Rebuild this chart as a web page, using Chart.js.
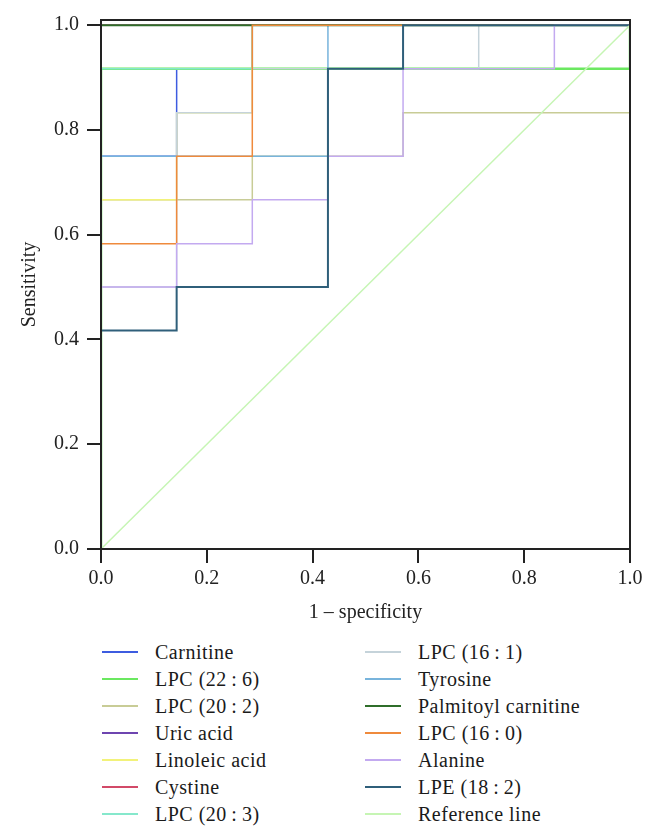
<!DOCTYPE html>
<html>
<head>
<meta charset="utf-8">
<script src="https://cdn.jsdelivr.net/npm/chart.js@4.4.0/dist/chart.umd.min.js"></script>
<style>
  body { margin: 0; background: #fff; }
  #wrap { position: relative; width: 654px; height: 836px; }
  #roc { position: absolute; left: 0; top: 0; }
  .key { position: absolute; height: 24px; font: 20px "Liberation Serif", serif; letter-spacing: 0.5px; color: #1a1a1a; white-space: nowrap; }
  .key span.ln { position: absolute; left: 0; top: 11px; width: 36px; height: 2px; }
  .key span.tx { position: absolute; left: 53px; top: 0; line-height: 24px; }
</style>
</head>
<body>
<div id="wrap">
  <canvas id="roc" width="654" height="640"></canvas>
</div>
<script>
// ROC curves: 1 - specificity (x) vs sensitivity (y)
var names = ["Carnitine", "LPC (22\u2009:\u20096)", "LPC (20\u2009:\u20092)", "Uric acid", "Linoleic acid", "Cystine", "LPC (20\u2009:\u20093)",
             "LPC (16\u2009:\u20091)", "Tyrosine", "Palmitoyl carnitine", "LPC (16\u2009:\u20090)", "Alanine", "LPE (18\u2009:\u20092)", "Reference line"];

var carnitineX = [0, 0, 0.143, 0.143, 0.286, 0.286, 1];
var carnitineY = [0, 0.75, 0.75, 0.917, 0.917, 1, 1];
var lpc226X = [0, 0, 1, 1];
var lpc226Y = [0, 0.917, 0.917, 1];
var lpc202X = [0, 0, 0.286, 0.286, 0.571, 0.571, 1, 1];
var lpc202Y = [0, 0.667, 0.667, 0.75, 0.75, 0.833, 0.833, 1];
var uricX = [0, 0, 1];
var uricY = [0, 1, 1];
var linoleicX = [0, 0, 0.143, 0.143, 0.286, 0.286, 1];
var linoleicY = [0, 0.667, 0.667, 0.833, 0.833, 1, 1];
var cystineX = [0, 0, 1];
var cystineY = [0, 1, 1];
var lpc203X = [0, 0, 0.286, 0.286, 1];
var lpc203Y = [0, 0.917, 0.917, 1, 1];
var lpc161X = [0, 0, 0.143, 0.143, 0.286, 0.286, 0.714, 0.714, 1];
var lpc161Y = [0, 0.5, 0.5, 0.833, 0.833, 0.917, 0.917, 1, 1];
var tyrosineX = [0, 0, 0.429, 0.429, 1];
var tyrosineY = [0, 0.75, 0.75, 1, 1];
var palmitoylX = [0, 0, 1];
var palmitoylY = [0, 1, 1];
var lpc160X = [0, 0, 0.143, 0.143, 0.286, 0.286, 1];
var lpc160Y = [0, 0.583, 0.583, 0.75, 0.75, 1, 1];
var alanineX = [0, 0, 0.143, 0.143, 0.286, 0.286, 0.429, 0.429, 0.571, 0.571, 0.857, 0.857, 1];
var alanineY = [0, 0.5, 0.5, 0.583, 0.583, 0.667, 0.667, 0.75, 0.75, 0.917, 0.917, 1, 1];
var lpe182X = [0, 0, 0.143, 0.143, 0.429, 0.429, 0.571, 0.571, 1];
var lpe182Y = [0, 0.417, 0.417, 0.5, 0.5, 0.917, 0.917, 1, 1];
var refX = [0, 1];
var refY = [0, 1];

var xTicks = [0, 0.2, 0.4, 0.6, 0.8, 1.0];
var yTicks = [0, 0.2, 0.4, 0.6, 0.8, 1.0];

var seriesX = [carnitineX, lpc226X, lpc202X, uricX, linoleicX, cystineX, lpc203X, lpc161X, tyrosineX, palmitoylX, lpc160X, alanineX, lpe182X, refX];
var seriesY = [carnitineY, lpc226Y, lpc202Y, uricY, linoleicY, cystineY, lpc203Y, lpc161Y, tyrosineY, palmitoylY, lpc160Y, alanineY, lpe182Y, refY];

var colors = ["#3d5ce0", "#6be860", "#c8cc96", "#6e45b0", "#f2f27a", "#d24a68", "#86e8cc",
              "#c5d3da", "#78b4dc", "#2f6e2a", "#ef8a3c", "#c3aaf0", "#2f5f7a", "#c6f5b4"];
var widths = [1.5, 2.5, 1.5, 1.5, 1.5, 1.5, 1.5, 1.5, 1.5, 2, 1.5, 1.5, 2, 1.5];

var ink = "#222";
var serif = '"Liberation Serif", serif';

var datasets = [];
for (var i = 0; i < names.length; i++) {
    var pts = [];
    for (var j = 0; j < seriesX[i].length; j++) {
        pts.push({x: seriesX[i][j], y: seriesY[i][j]});
    }
    datasets.push({
        label: names[i],
        data: pts,
        showLine: true,
        borderColor: colors[i],
        backgroundColor: colors[i],
        borderWidth: widths[i],
        pointRadius: 0,
        fill: false,
        order: names.length - i   // later series drawn on top
    });
}

// box round the plot, drawn over the curves like the axes in the original
var frame = {
    id: "frame",
    afterDraw: function(chart) {
        var a = chart.chartArea, c = chart.ctx;
        c.save();
        c.strokeStyle = ink;
        c.lineWidth = 2;
        c.strokeRect(a.left, a.top, a.right - a.left, a.bottom - a.top);
        c.restore();
    }
};

var ctx = document.getElementById("roc").getContext("2d");
var chart = new Chart(ctx, {
    type: "scatter",
    data: { datasets: datasets },
    plugins: [frame],
    options: {
        responsive: false,
        animation: false,
        layout: { padding: { top: 15, right: 24, left: 0, bottom: 0 } },
        plugins: { legend: { display: false }, tooltip: { enabled: false } },
        scales: {
            x: {
                type: "linear", min: 0, max: 1,
                afterBuildTicks: function(s) { s.ticks = xTicks.map(function(v){ return {value: v}; }); },
                afterFit: function(s) { s.height = 91; },
                ticks: { color: ink, font: { family: serif, size: 20 }, padding: 4,
                         callback: function(v) { return v.toFixed(1); } },
                grid: { drawOnChartArea: false, drawTicks: true, tickLength: 14, color: ink, lineWidth: 2 },
                border: { display: true, color: ink, width: 2 },
                title: { display: true, text: "1 \u2013 specificity", color: ink,
                         font: { family: serif, size: 20 }, padding: { top: 0, bottom: 15 } }
            },
            y: {
                type: "linear", min: 0, max: 1.01,
                afterBuildTicks: function(s) { s.ticks = yTicks.map(function(v){ return {value: v}; }); },
                afterFit: function(s) { s.width = 101; },
                ticks: { color: ink, font: { family: serif, size: 20 }, padding: 8,
                         callback: function(v) { return v.toFixed(1); } },
                grid: { drawOnChartArea: false, drawTicks: true, tickLength: 14, color: ink, lineWidth: 2 },
                border: { display: true, color: ink, width: 2 },
                title: { display: true, text: "Sensitivity", color: ink,
                         font: { family: serif, size: 20 }, padding: { top: 18, bottom: 0 } }
            }
        }
    }
});

// legend, two columns of seven
var wrap = document.getElementById("wrap");
for (var k = 0; k < names.length; k++) {
    var col = k < 7 ? 0 : 1;
    var row = k % 7;
    var d = document.createElement("div");
    d.className = "key";
    d.style.left = (col === 0 ? 102 : 365) + "px";
    d.style.top = (640 + row * 27) + "px";
    d.innerHTML = '<span class="ln" style="background:' + colors[k] + '"></span><span class="tx">' + names[k] + '</span>';
    wrap.appendChild(d);
}
</script>
</body>
</html>
